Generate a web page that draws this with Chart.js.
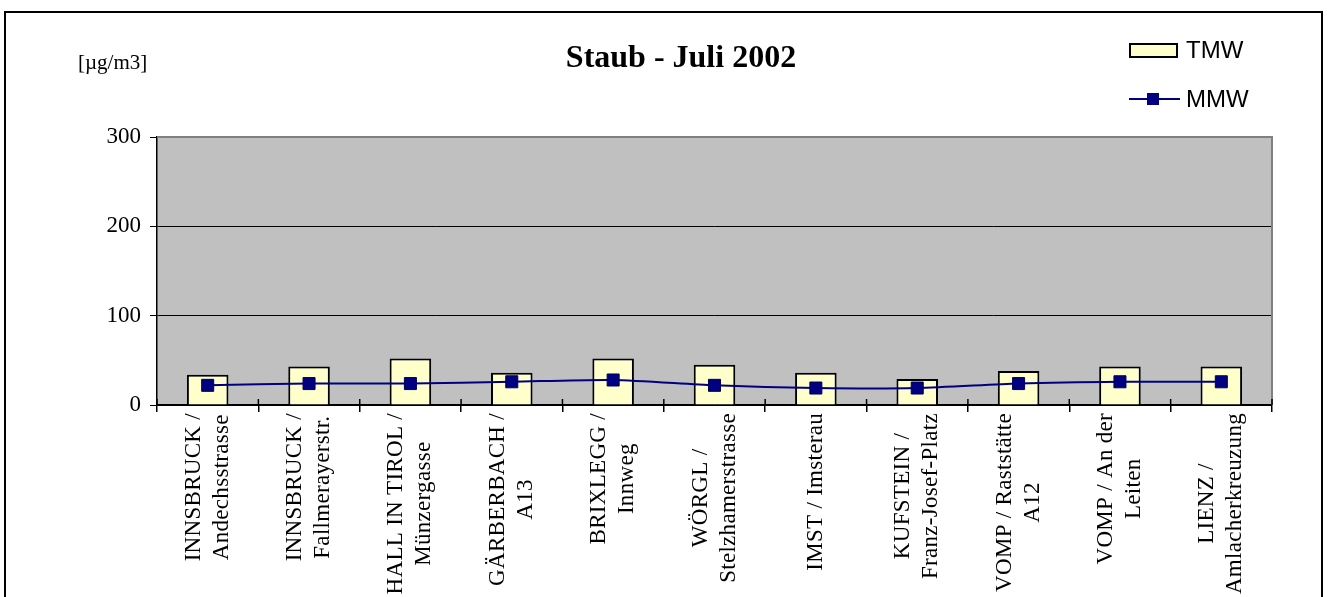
<!DOCTYPE html>
<html>
<head>
<meta charset="utf-8">
<title>Staub - Juli 2002</title>
<script src="https://cdn.jsdelivr.net/npm/chart.js@4.4.1/dist/chart.umd.min.js"></script>
<style>
  html, body { margin: 0; padding: 0; background: #fff; }
  #wrap { position: relative; width: 1331px; height: 597px; }
</style>
</head>
<body>
<div id="wrap"><canvas id="staubChart" width="1331" height="597"></canvas></div>
<script>
// -- Data --
const stations = [
  ['INNSBRUCK /', 'Andechsstrasse'],
  ['INNSBRUCK /', 'Fallmerayerstr.'],
  ['HALL IN TIROL /', 'Münzergasse'],
  ['GÄRBERBACH /', 'A13'],
  ['BRIXLEGG /', 'Innweg'],
  ['WÖRGL /', 'Stelzhamerstrasse'],
  ['IMST / Imsterau'],
  ['KUFSTEIN /', 'Franz-Josef-Platz'],
  ['VOMP / Raststätte', 'A12'],
  ['VOMP / An der', 'Leiten'],
  ['LIENZ /', 'Amlacherkreuzung']
];
const tmwValues = [34, 43, 52, 36, 52, 45, 36, 29, 38, 43, 43];
const mmwValues = [22, 24, 24, 26, 28, 22, 19, 19, 24, 26, 26];
const yTicks = [0, 100, 200, 300];

const serif = '"Liberation Serif", "Times New Roman", serif';
const sans = '"Liberation Sans", Arial, sans-serif';

// -- Background, frame, title, legend and rotated station labels --
const chartDecor = {
  id: 'chartDecor',
  beforeDraw(chart) {
    const { ctx, chartArea: a } = chart;
    ctx.save();
    ctx.fillStyle = '#fff';
    ctx.fillRect(0, 0, chart.width, chart.height);
    ctx.fillStyle = '#c0c0c0';
    ctx.fillRect(a.left, a.top, a.right - a.left, a.bottom - a.top);
    ctx.restore();
  },
  afterDraw(chart) {
    const { ctx, chartArea: a } = chart;
    const xs = chart.scales.x;
    ctx.save();

    // grey plot border (top + right)
    ctx.strokeStyle = '#808080';
    ctx.lineWidth = 2;
    ctx.beginPath();
    ctx.moveTo(a.left, a.top);
    ctx.lineTo(a.right, a.top);
    ctx.lineTo(a.right, a.bottom);
    ctx.stroke();

    // x tick marks also reach a bit above the axis
    ctx.strokeStyle = '#000';
    ctx.lineWidth = 1.5;
    const n = stations.length;
    for (let i = 0; i <= n; i++) {
      const x = xs.left + i * (xs.width / n);
      ctx.beginPath();
      ctx.moveTo(x, a.bottom - 6);
      ctx.lineTo(x, a.bottom);
      ctx.stroke();
    }

    // outer frame
    ctx.strokeStyle = '#000';
    ctx.lineWidth = 2;
    ctx.strokeRect(5, 12, 1317, 620);

    // title + unit
    ctx.fillStyle = '#000';
    ctx.textBaseline = 'alphabetic';
    ctx.textAlign = 'center';
    ctx.font = 'bold 32px ' + serif;
    ctx.fillText('Staub - Juli 2002', 681, 67);
    ctx.textAlign = 'left';
    ctx.font = '21px ' + serif;
    ctx.fillText('[µg/m3]', 78, 69);

    // legend
    const bars = chart.data.datasets[1];
    const line = chart.data.datasets[0];
    ctx.fillStyle = bars.backgroundColor;
    ctx.fillRect(1130, 44, 47, 13);
    ctx.strokeStyle = '#000';
    ctx.lineWidth = 2;
    ctx.strokeRect(1130, 44, 47, 13);
    ctx.strokeStyle = line.borderColor;
    ctx.beginPath();
    ctx.moveTo(1129, 99);
    ctx.lineTo(1180, 99);
    ctx.stroke();
    ctx.fillStyle = line.pointBackgroundColor;
    ctx.fillRect(1147, 93, 12, 12);
    ctx.fillStyle = '#000';
    ctx.font = '24px ' + sans;
    ctx.fillText('TMW', 1186, 58);
    ctx.fillText('MMW', 1186, 107);

    // station labels, rotated, lines centred in a block hanging from the axis
    ctx.font = '23px ' + serif;
    ctx.letterSpacing = '0.3px';
    ctx.textAlign = 'center';
    ctx.textBaseline = 'middle';
    const lh = 28;
    stations.forEach((lines, i) => {
      const x = xs.getPixelForValue(i);
      const blockW = Math.max(...lines.map(l => ctx.measureText(l).width));
      const cy = xs.top + 8 + blockW / 2;
      lines.forEach((l, j) => {
        ctx.save();
        ctx.translate(x + (j - (lines.length - 1) / 2) * lh, cy);
        ctx.rotate(-Math.PI / 2);
        ctx.fillText(l, 0, 0);
        ctx.restore();
      });
    });
    ctx.restore();
  }
};

// -- Chart --
const staubCtx = document.getElementById('staubChart');
new Chart(staubCtx, {
  data: {
    labels: stations,
    datasets: [
      {
        type: 'line',
        label: 'MMW',
        data: mmwValues,
        borderColor: '#000080',
        borderWidth: 2,
        pointStyle: 'rect',
        pointRadius: 8.5,
        pointBackgroundColor: '#000080',
        pointBorderColor: '#00005a',
        pointBorderWidth: 1,
        tension: 0.25,
        order: 1
      },
      {
        type: 'bar',
        label: 'TMW',
        data: tmwValues,
        backgroundColor: '#ffffcc',
        borderColor: '#000',
        borderWidth: 2,
        barPercentage: 0.41,
        categoryPercentage: 1,
        order: 2
      }
    ]
  },
  options: {
    responsive: false,
    animation: false,
    layout: { padding: { top: 137, right: 59, left: 0, bottom: 0 } },
    plugins: {
      legend: { display: false },
      title: { display: false },
      tooltip: { enabled: false }
    },
    scales: {
      x: {
        offset: true,
        grid: { offset: true, drawOnChartArea: false, tickLength: 7, color: '#000', lineWidth: 1.5 },
        border: { color: '#000', width: 1.5 },
        ticks: { display: false },
        afterFit(s) { s.height = 192; }
      },
      y: {
        min: 0,
        max: 300,
        afterBuildTicks(s) { s.ticks = yTicks.map(v => ({ value: v })); },
        ticks: { color: '#000', font: { family: serif, size: 23 }, padding: 9 },
        grid: {
          color: c => (c.tick && c.tick.value === 300 ? '#808080' : '#000'),
          tickColor: '#000',
          tickLength: 7
        },
        border: { color: '#000', width: 1.5 },
        afterFit(s) { s.width = 157; }
      }
    }
  },
  plugins: [chartDecor]
});
</script>
</body>
</html>
